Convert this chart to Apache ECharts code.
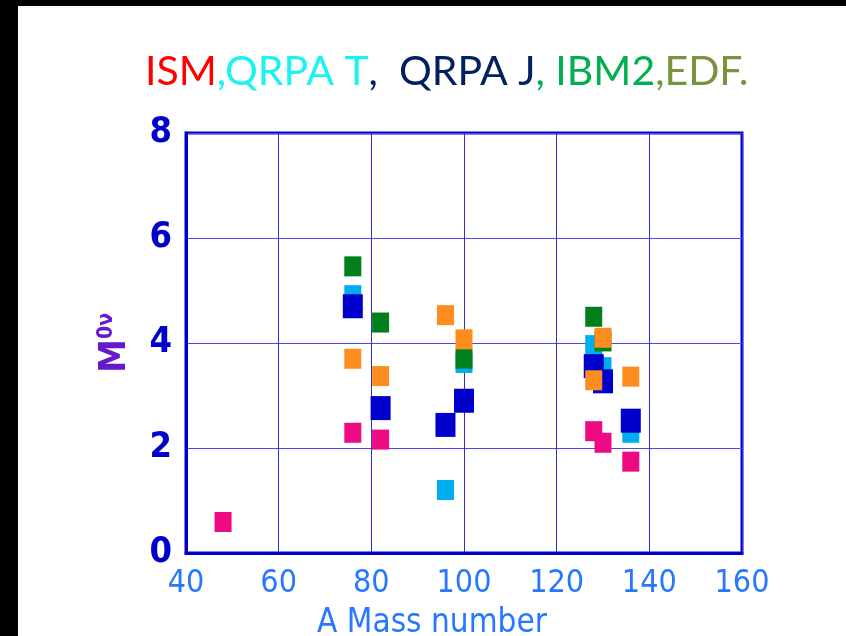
<!DOCTYPE html>
<html>
<head>
<meta charset="utf-8">
<script src="https://cdn.jsdelivr.net/npm/echarts@6/dist/echarts.min.js"></script>
<style>
html,body{margin:0;padding:0;background:#000;width:846px;height:636px;overflow:hidden;}
#c{position:absolute;left:18px;top:6px;width:828px;height:630px;background:#fff;}
</style>
</head>
<body>
<div id="c"></div>
<script>
// ---- data ----
const ismA = [48, 76, 82, 128, 130, 136];
const ismM = [0.59, 2.29, 2.16, 2.32, 2.10, 1.74];
const qrpaTA = [76, 96, 100, 128, 130, 136];
const qrpaTM = [4.91, 1.20, 3.62, 3.96, 3.54, 2.29];
const qrpaJA = [76, 82, 96, 100, 128, 130, 136];
const qrpaJM = [4.70, 2.76, 2.44, 2.90, 3.56, 3.27, 2.52];
const ibm2A = [76, 82, 100, 128, 130];
const ibm2M = [5.46, 4.39, 3.70, 4.50, 4.03];
const edfA = [76, 82, 96, 100, 128, 130, 136];
const edfM = [3.70, 3.37, 4.53, 4.07, 3.29, 4.10, 3.36];
const xTicks = [40, 60, 80, 100, 120, 140, 160];
const yTicks = [0, 2, 4, 6, 8];

const pair = (a, m) => a.map((v, i) => [v, m[i]]);
const NARROW = '"Liberation Sans Narrow","DejaVu Sans Condensed","Roboto Condensed",sans-serif';

const chart = echarts.init(document.getElementById('c'), null, {renderer: 'canvas', width: 828, height: 630});
const mk = (name, a, m, color, size) => ({
  name, type: 'scatter', data: pair(a, m), symbol: 'rect', symbolSize: size,
  itemStyle: {color: color, opacity: 1}, emphasis: {disabled: true}, animation: false
});
chart.setOption({
  backgroundColor: '#fff',
  animation: false,
  title: {
    left: 122, top: 40,
    text: '{r|ISM}{c|,QRPA T}{n|,  QRPA J}{g|, IBM2}{o|,EDF.}',
    textStyle: {
      fontFamily: 'Lato, "Open Sans", sans-serif', fontSize: 41, fontWeight: 'normal',
      rich: {
        r: {color: '#FF0000', fontSize: 41, fontFamily: 'Lato'},
        c: {color: '#1CF2F2', fontSize: 41, fontFamily: 'Lato'},
        n: {color: '#002060', fontSize: 41, fontFamily: 'Lato'},
        g: {color: '#00B050', fontSize: 41, fontFamily: 'Lato'},
        o: {color: '#77933C', fontSize: 41, fontFamily: 'Lato'}
      }
    }
  },
  grid: {left: 168, right: 104, top: 127, bottom: 83, containLabel: false, outerBoundsMode: 'none',
         show: true, borderColor: '#0000CC', borderWidth: 3, backgroundColor: 'transparent'},
  xAxis: {
    type: 'value', min: xTicks[0], max: xTicks[xTicks.length - 1], interval: 20,
    axisLine: {show: true, lineStyle: {color: '#0000CC', width: 3}},
    axisTick: {show: false},
    splitLine: {show: true, lineStyle: {color: '#2E2ED8', width: 1}},
    axisLabel: {color: '#2878FF', fontSize: 32, fontFamily: NARROW, margin: 15},
    name: 'A Mass number', nameLocation: 'middle', nameGap: 54,
    nameTextStyle: {color: '#2878FF', fontSize: 33, fontFamily: NARROW, padding: [0, 64, 0, 0]}
  },
  yAxis: {
    type: 'value', min: yTicks[0], max: yTicks[yTicks.length - 1], interval: 2,
    axisLine: {show: true, lineStyle: {color: '#0000CC', width: 3}},
    axisTick: {show: false},
    splitLine: {show: true, lineStyle: {color: '#4A4AE0', width: 1}},
    axisLabel: {color: '#0000CC', fontSize: 36, fontWeight: 'bold', fontFamily: NARROW, margin: 14},
    name: '{m|M}{s|0ν}', nameLocation: 'middle', nameGap: 52, nameRotate: 90,
    nameTextStyle: {
      rich: {
        m: {color: '#6619CC', fontSize: 38, fontWeight: 'bold', fontFamily: NARROW},
        s: {color: '#6619CC', fontSize: 21, fontWeight: 'bold', fontFamily: NARROW, verticalAlign: 'top', padding: [0, 0, 14, 0]}
      }
    }
  },
  series: [
    mk('QRPA T', qrpaTA, qrpaTM, '#00AEEF', [17, 20]),
    mk('QRPA J', qrpaJA, qrpaJM, '#0000CC', [20, 24]),
    mk('IBM2', ibm2A, ibm2M, '#007F1A', [17, 20]),
    mk('EDF', edfA, edfM, '#FF8C1F', [17, 20]),
    mk('ISM', ismA, ismM, '#EE0A82', [17, 20])
  ]
});
</script>
</body>
</html>
